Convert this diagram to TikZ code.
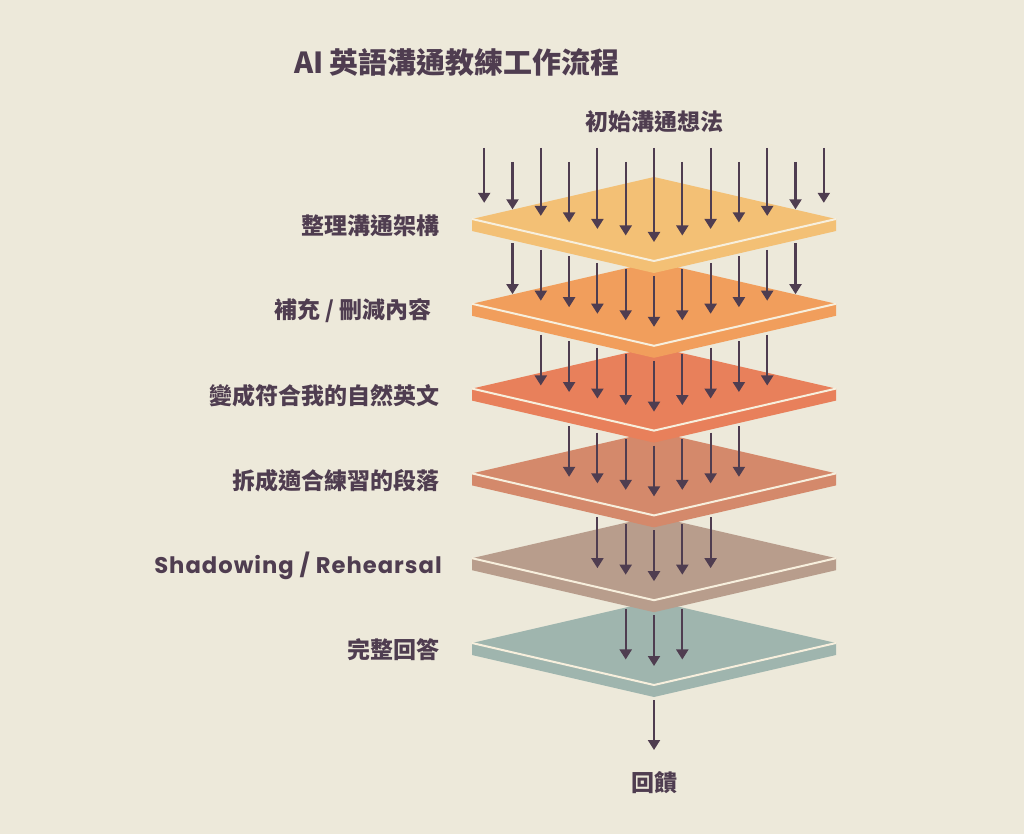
\documentclass[tikz,border=0pt]{standalone}
\usepackage{fontspec}
\setmainfont{Noto Sans CJK TC}
\newfontfamily\hand{Poppins}[LetterSpace=4.5]
\usetikzlibrary{arrows.meta}
\definecolor{bg}{HTML}{EDE9DA}
\definecolor{ink}{HTML}{4F3D50}
\definecolor{cream}{HTML}{F7EFDD}
\definecolor{L1}{HTML}{F3C075}
\definecolor{L2}{HTML}{F19E5C}
\definecolor{L3}{HTML}{E8805B}
\definecolor{L4}{HTML}{D4896B}
\definecolor{L5}{HTML}{B89D8C}
\definecolor{L6}{HTML}{9FB5AE}
\begin{document}
\begin{tikzpicture}[x=0.75pt,y=-0.75pt,
  arr/.style={draw=ink, line width=1.6pt, -{Triangle[width=9pt,length=7.5pt,fill=ink]}},
  lbl/.style={anchor=east, text=ink, inner sep=0pt, font=\fontsize{17.25}{20}\selectfont\bfseries},
  ttl/.style={text=ink, inner sep=0pt, font=\fontsize{21.75}{25}\selectfont\bfseries}]
\fill[bg] (0,0) rectangle (1024,834);
\useasboundingbox (0,0) rectangle (1024,834);
\foreach \k/\col in {6/L6,5/L5,4/L4,3/L3,2/L2,1/L1}{
  \pgfmathsetmacro\c{219+84.8*(\k-1)}
  \fill[\col] (472,\c) -- (654,\c-42) -- (836,\c) -- (836,\c+12) -- (654,\c+54) -- (472,\c+12) -- cycle;
  \draw[cream, line width=1.5pt] (472,\c) -- (654,\c+42) -- (836,\c);
  \pgfmathtruncatemacro\m{7-\k}
  \foreach \i in {-\m,...,\m}{
    \pgfmathsetmacro\x{654+28.3*\i}
    \pgfmathsetmacro\ye{\c+23-6.53*abs(\i)}
    \pgfmathsetmacro\ys{ifthenelse(\k==1, ifthenelse(mod(abs(\i),2)==0,148,162), 219+84.8*(\k-2)+57-6.53*abs(\i))}
    \coordinate (s\k\i) at (\x,\ys);
    \coordinate (e\k\i) at (\x,\ye);
    \draw[arr] (s\k\i) -- (e\k\i);
  }
}
\coordinate (f1) at (654,700);
\coordinate (f2) at (654,750);
\draw[arr] (f1) -- (f2);
\node[ttl] (title) at (457,62) {AI 英語溝通教練工作流程};
\node[lbl, anchor=center] (input) at (654,122) {初始溝通想法};
\node[lbl, anchor=center] (output) at (654,783) {回饋};
\node[lbl] (l1) at (440,226) {整理溝通架構};
\node[lbl] (l2) at (432,311) {補充 / 刪減內容};
\node[lbl] (l3) at (440,396) {變成符合我的自然英文};
\node[lbl] (l4) at (440,481) {拆成適合練習的段落};
\node[lbl, font=\fontsize{17}{20}\selectfont\hand\bfseries] (l5) at (442,566) {Shadowing / Rehearsal};
\node[lbl] (l6) at (440,650) {完整回答};
\end{tikzpicture}
\end{document}
